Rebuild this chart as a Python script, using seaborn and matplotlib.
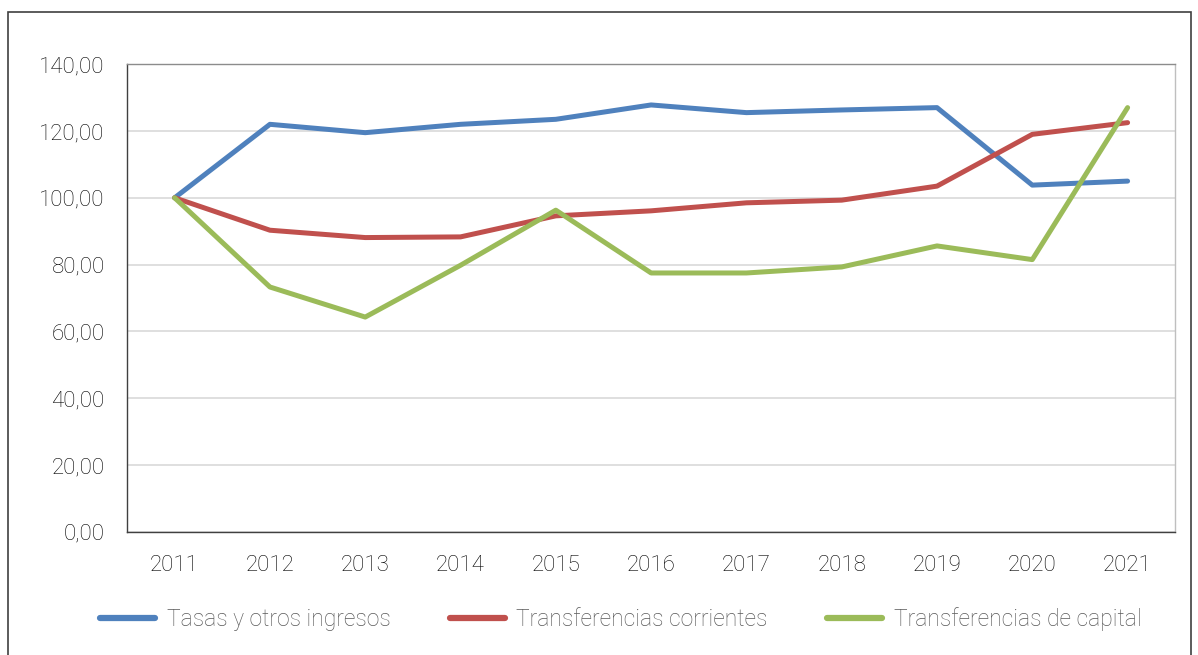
import pandas as pd
import matplotlib.pyplot as plt
import seaborn as sns
from matplotlib.patches import Rectangle
from matplotlib.ticker import FuncFormatter

# data
years = ['2011', '2012', '2013', '2014', '2015', '2016', '2017', '2018', '2019', '2020', '2021']
tasas = [100.0, 122.0, 119.5, 122.0, 123.5, 127.8, 125.5, 126.3, 127.0, 103.8, 105.0]
corrientes = [100.0, 90.3, 88.1, 88.3, 94.6, 96.1, 98.5, 99.3, 103.5, 119.0, 122.5]
capital = [100.0, 73.3, 64.3, 79.8, 96.3, 77.5, 77.5, 79.3, 85.6, 81.5, 127.0]
series_names = ['Tasas y otros ingresos', 'Transferencias corrientes', 'Transferencias de capital']
colors = ['#4f81bd', '#c0504d', '#9bbb59']

df = pd.DataFrame({'año': years * 3,
                   'valor': tasas + corrientes + capital,
                   'serie': [series_names[0]] * 11 + [series_names[1]] * 11 + [series_names[2]] * 11})

sns.set_style("white")
plt.rcParams['font.family'] = ['Roboto', 'DejaVu Sans']

fig = plt.figure(figsize=(11.98, 6.55), dpi=100)
ax = fig.add_axes([0.106, 0.188, 0.875, 0.714])

sns.lineplot(data=df, x='año', y='valor', hue='serie', palette=colors,
             linewidth=3.6, sort=False, ax=ax)

ax.set_xlim(-0.5, 10.5)
ax.set_ylim(0, 140)
ax.set_yticks(range(0, 141, 20))
ax.yaxis.set_major_formatter(FuncFormatter(lambda v, p: f"{v:.2f}".replace('.', ',')))
ax.grid(axis='y', color='#d9d9d9', linewidth=1.2)
ax.set_axisbelow(True)
ax.set_xlabel('')
ax.set_ylabel('')
ax.tick_params(axis='both', length=0, labelsize=16, colors='#000000')
ax.tick_params(axis='x', pad=17)
ax.tick_params(axis='y', pad=16)
for lbl in ax.get_xticklabels() + ax.get_yticklabels():
    lbl.set_fontweight('light')

ax.spines['left'].set_color('#404040')
ax.spines['bottom'].set_color('#404040')
ax.spines['top'].set_color('#8c8c8c')
ax.spines['right'].set_color('#bfbfbf')
for s in ax.spines.values():
    s.set_linewidth(1.0)

leg = ax.legend(loc='upper center', bbox_to_anchor=(0.471, -0.116), ncol=3, frameon=False,
                fontsize=16.5, handlelength=2.4, columnspacing=2.6, handletextpad=0.5)
for t in leg.get_texts():
    t.set_color('#595959')
    t.set_fontweight('light')
for h in leg.get_lines():
    h.set_linewidth(4.5)

# outer frame of the chart box
fig.patches.append(Rectangle((0.007, -0.05), 0.987, 1.032, transform=fig.transFigure,
                             fill=False, edgecolor='#404040', linewidth=1.2))

fig.savefig('out.png', dpi=100)
